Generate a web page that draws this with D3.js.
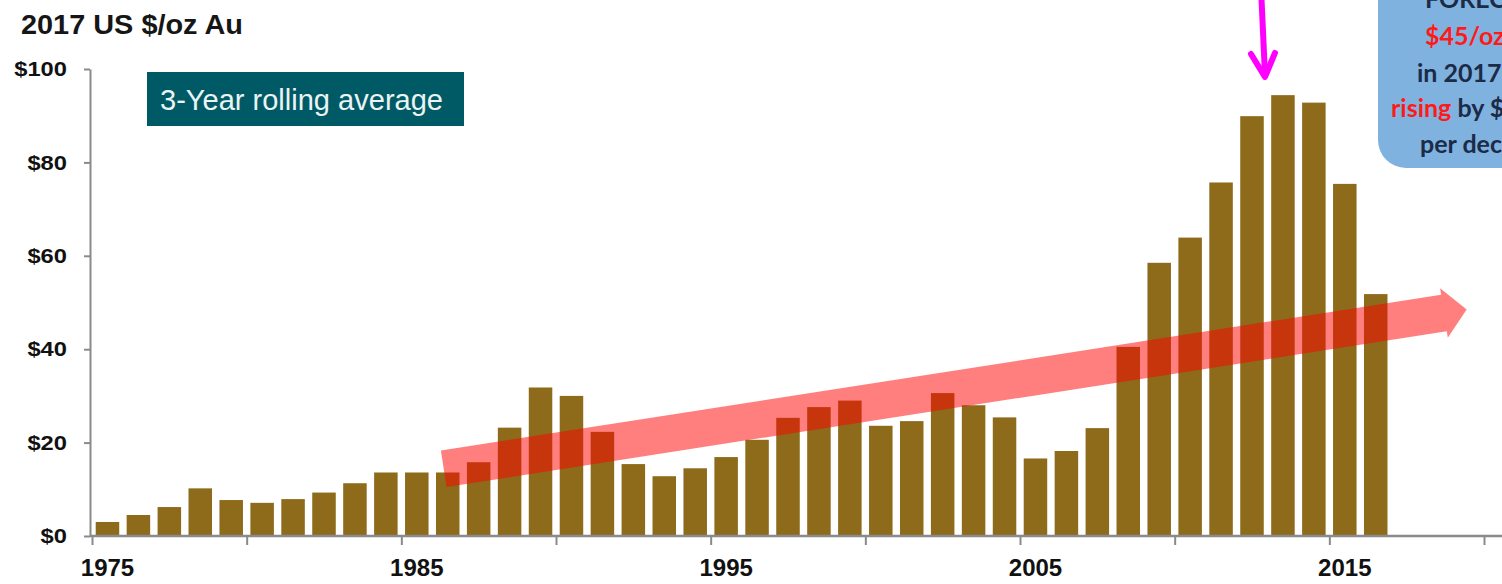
<!DOCTYPE html>
<html>
<head>
<meta charset="utf-8">
<script src="https://cdn.jsdelivr.net/npm/d3@7"></script>
<style>
  body { margin: 0; background: #fff; }
  svg { display: block; }
</style>
</head>
<body>
<div id="chart"></div>
<script>
// 3-year rolling average, 2017 US $/oz Au
var years = d3.range(1975, 2017); // 1975 .. 2016
var values = [3.0, 4.5, 6.2, 10.2, 7.7, 7.1, 7.9, 9.3, 11.3, 13.6,
              13.6, 13.6, 15.8, 23.2, 31.8, 30.0, 22.3, 15.4, 12.8, 14.5,
              16.9, 20.6, 25.3, 27.6, 29.0, 23.6, 24.6, 30.6, 28.0, 25.4,
              16.6, 18.2, 23.1, 40.5, 58.5, 63.9, 75.7, 89.9, 94.4, 92.8,
              75.4, 51.8];
var axisYears = d3.range(1975, 2020);           // category slots on the axis
var tickYears = d3.range(1975, 2021, 5);        // boundary tick marks
var labelYears = [1975, 1985, 1995, 2005, 2015];
var yTicks = [0, 20, 40, 60, 80, 100];

// trend arrow (year position, $/oz)
var trendStart = [1986.37, 14.4];
var trendEnd = [2019.44, 48.5];
// magenta pointer
var pointerTop = [2012.8, 116];
var pointerTip = [2012.92, 98.3];

var w = 1502, h = 584;
var x0 = 92, x1 = 1484;
var yBottom = 536, yTop = 69;

var svg = d3.select("#chart").append("svg")
  .attr("width", w)
  .attr("height", h);

var xBand = d3.scaleBand()
  .domain(axisYears)
  .range([x0, x1])
  .paddingInner(0.24)
  .paddingOuter(0.12);

var xLin = d3.scaleLinear()
  .domain([1975, 2020])
  .range([x0, x1]);

var y = d3.scaleLinear()
  .domain([0, 100])
  .range([yBottom, yTop]);

var font = "'Liberation Sans', Arial, sans-serif";
var axisColor = "#8a8a8a";

// title
svg.append("text")
  .attr("x", 21).attr("y", 34)
  .attr("font-family", font)
  .attr("font-weight", "bold")
  .attr("font-size", "27px")
  .attr("textLength", 222)
  .attr("lengthAdjust", "spacingAndGlyphs")
  .attr("fill", "#161616")
  .text("2017 US $/oz Au");

// bars
svg.append("g").selectAll("rect")
  .data(values)
  .enter()
  .append("rect")
  .attr("x", function(d, i) { return xBand(years[i]); })
  .attr("y", function(d) { return y(d); })
  .attr("width", xBand.bandwidth())
  .attr("height", function(d) { return y(0) - y(d); })
  .attr("fill", "#8e6a1b");

// y axis
var yAxis = d3.axisLeft(y)
  .tickValues(yTicks)
  .tickSize(6)
  .tickSizeOuter(0)
  .tickFormat(function(d) { return "$" + d; });

var gy = svg.append("g")
  .attr("transform", "translate(" + (x0 - 2) + ",0)")
  .call(yAxis);
gy.select(".domain").attr("stroke", axisColor).attr("stroke-width", 2);
gy.selectAll(".tick line").attr("stroke", axisColor).attr("stroke-width", 2);
gy.selectAll(".tick text")
  .attr("x", 0)
  .attr("transform", "translate(-23,0) scale(1.13,1)")
  .attr("font-family", font)
  .attr("font-weight", "bold")
  .attr("font-size", "21px")
  .attr("fill", "#111");

// x axis: tick marks on slot boundaries
var xTickAxis = d3.axisBottom(xLin)
  .tickValues(tickYears)
  .tickSize(9)
  .tickSizeOuter(0)
  .tickFormat("");

var gx = svg.append("g")
  .attr("transform", "translate(0," + yBottom + ")")
  .call(xTickAxis);
gx.select(".domain")
  .attr("d", "M" + (x0 - 2) + ",0H" + w)
  .attr("stroke", axisColor).attr("stroke-width", 2.5);
gx.selectAll(".tick line").attr("stroke", axisColor).attr("stroke-width", 2);

// x axis labels centred on slots
var xLabelAxis = d3.axisBottom(xBand)
  .tickValues(labelYears)
  .tickSize(0)
  .tickPadding(23);

var gxl = svg.append("g")
  .attr("transform", "translate(0," + yBottom + ")")
  .call(xLabelAxis);
gxl.select(".domain").remove();
gxl.selectAll(".tick text")
  .attr("font-family", font)
  .attr("font-weight", "bold")
  .attr("font-size", "24px")
  .attr("fill", "#111");

// legend box
svg.append("rect")
  .attr("x", 147).attr("y", 72)
  .attr("width", 317).attr("height", 54)
  .attr("fill", "#005a66");
svg.append("text")
  .attr("x", 160).attr("y", 110)
  .attr("font-family", font)
  .attr("font-size", "29px")
  .attr("textLength", 283)
  .attr("lengthAdjust", "spacingAndGlyphs")
  .attr("fill", "#eaf4f4")
  .text("3-Year rolling average");

// trend arrow
function arrowPoints(p0, p1, bodyHalf, headHalf, headLen) {
  var dx = p1[0] - p0[0], dy = p1[1] - p0[1];
  var len = Math.sqrt(dx * dx + dy * dy);
  var ux = dx / len, uy = dy / len;
  var nx = -uy, ny = ux;
  var bx = p1[0] - ux * headLen, by = p1[1] - uy * headLen;
  return [
    [p0[0] + nx * bodyHalf, p0[1] + ny * bodyHalf],
    [bx + nx * bodyHalf, by + ny * bodyHalf],
    [bx + nx * headHalf, by + ny * headHalf],
    [p1[0], p1[1]],
    [bx - nx * headHalf, by - ny * headHalf],
    [bx - nx * bodyHalf, by - ny * bodyHalf],
    [p0[0] - nx * bodyHalf, p0[1] - ny * bodyHalf]
  ];
}

var tA = [xLin(trendStart[0]), y(trendStart[1])];
var tB = [xLin(trendEnd[0]), y(trendEnd[1])];
svg.append("polygon")
  .attr("points", arrowPoints(tA, tB, 18.5, 25, 23).map(function(p) { return p.join(","); }).join(" "))
  .attr("fill", "#ff0000")
  .attr("fill-opacity", 0.5);

// magenta pointer
var pA = [xLin(pointerTop[0]), y(pointerTop[1])];
var pB = [xLin(pointerTip[0]), y(pointerTip[1])];
var pointer = svg.append("g")
  .attr("fill", "none")
  .attr("stroke", "#ff00ff")
  .attr("stroke-width", 6)
  .attr("stroke-linecap", "round")
  .attr("stroke-linejoin", "round");
pointer.append("line")
  .attr("x1", pA[0]).attr("y1", pA[1])
  .attr("x2", pB[0]).attr("y2", pB[1] - 2);
pointer.append("path")
  .attr("d", "M" + (pB[0] - 14) + "," + (pB[1] - 23) + "L" + pB[0] + "," + pB[1] + "L" + (pB[0] + 10) + "," + (pB[1] - 24));

// forecast call-out (clipped by the page edge, as in the source)
svg.append("rect")
  .attr("x", 1378).attr("y", -60)
  .attr("width", 220).attr("height", 228)
  .attr("rx", 28).attr("ry", 28)
  .attr("fill", "#7fb2de");

var calloutFont = "Lato, 'Open Sans', sans-serif";
var callout = [
  { x: 1425, y: 8,   parts: [["FORECAST", "#1c2b48"]] },
  { x: 1425, y: 45,  parts: [["$45/oz", "#ff1a1a"]] },
  { x: 1417, y: 82,  parts: [["in 2017,", "#1c2b48"]] },
  { x: 1391, y: 117, parts: [["rising", "#ff1a1a"], [" by $5/oz", "#1c2b48"]] },
  { x: 1420, y: 153, parts: [["per decade", "#1c2b48"]] }
];
var ct = svg.append("g").selectAll("text")
  .data(callout)
  .enter()
  .append("text")
  .attr("x", function(d) { return d.x; })
  .attr("y", function(d) { return d.y; })
  .attr("font-family", calloutFont)
  .attr("font-weight", "bold")
  .attr("font-size", "25px");
ct.selectAll("tspan")
  .data(function(d) { return d.parts; })
  .enter()
  .append("tspan")
  .attr("fill", function(d) { return d[1]; })
  .style("white-space", "pre")
  .text(function(d) { return d[0]; });
</script>
</body>
</html>
